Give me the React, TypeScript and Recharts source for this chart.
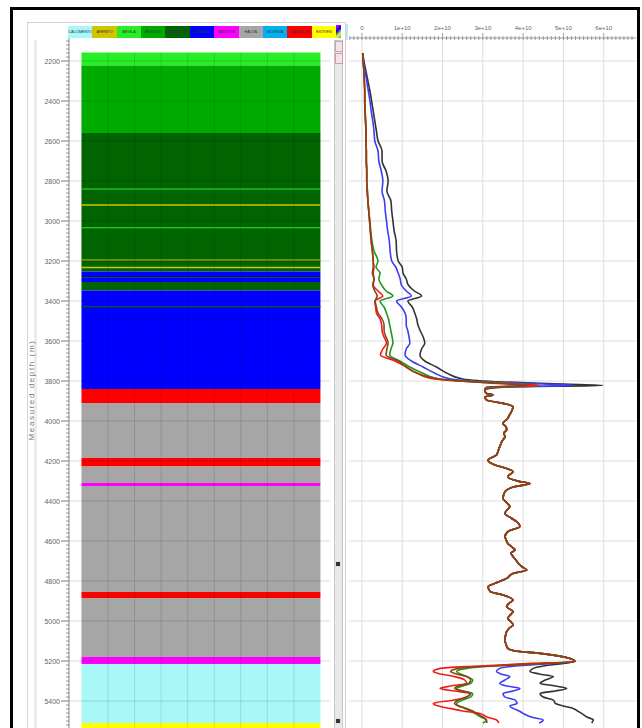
import React from "react";
import {
  ComposedChart,
  LineChart,
  Line,
  XAxis,
  YAxis,
  CartesianGrid,
  ReferenceArea,
  ReferenceLine,
} from "recharts";

// ---- lithology legend ----
const lithoNames = [
  "CALCIMENTO",
  "ARENITO",
  "ARGILA",
  "ARGILITO",
  "BASALTO",
  "DIABASIO",
  "ANIDRITA",
  "HALITA",
  "SILVINITA",
  "CARNALITA",
  "ESTIVEN",
];

const lithoColor: Record<string, string> = {
  CALCIMENTO: "#a9f8f8",
  ARENITO: "#d2c400",
  ARGILA: "#28ee28",
  ARGILITO: "#00ab00",
  BASALTO: "#006400",
  DIABASIO: "#0000ff",
  ANIDRITA: "#ff00ff",
  HALITA: "#a6a6a6",
  SILVINITA: "#00b0f0",
  CARNALITA: "#ff0000",
  ESTIVEN: "#ffff00",
};

// ---- lithology column (top, base in m, lithology) ----
const bandTop = [
  2158, 2222, 2560, 2837, 2916, 3031, 3192, 3229, 3253, 3280,
  3285, 3305, 3348, 3425, 3840, 3910, 4185, 4228, 4310, 4325,
  4855, 4885, 5180, 5215, 5510,
];
const bandBase = [
  2222, 2560, 3253, 2843, 2924, 3036, 3198, 3236, 3280, 3285,
  3305, 3348, 3840, 3431, 3910, 4185, 4228, 4310, 4325, 4855,
  4885, 5180, 5215, 5510, 5540,
];
const bandLitho = [
  "ARGILA", "ARGILITO", "BASALTO", "ARGILA", "ARENITO", "ARGILA", "ARENITO", "ARENITO", "DIABASIO", "BASALTO",
  "DIABASIO", "BASALTO", "DIABASIO", "BASALTO", "CARNALITA", "HALITA", "CARNALITA", "HALITA", "ANIDRITA", "HALITA",
  "CARNALITA", "HALITA", "ANIDRITA", "CALCIMENTO", "ESTIVEN",
];

// ---- depth scale ----
const depthTicks = [2200, 2400, 2600, 2800, 3000, 3200, 3400, 3600, 3800, 4000, 4200, 4400, 4600, 4800, 5000, 5200, 5400];
const depthMinorTicks = Array.from({ length: 176 }, (_, i) => 2100 + i * 20);
const valueMajorTicks = [0, 1, 2, 3, 4, 5, 6];
const valueMinorTicks = Array.from({ length: 71 }, (_, i) => (i - 3) / 10);

// ---- curves (values in 1e10) ----
const upperDepth = [
  2160, 2200, 2250, 2300, 2350, 2400, 2450, 2500, 2550, 2600,
  2650, 2700, 2750, 2800, 2850, 2900, 2950, 3000, 3050, 3100,
  3150, 3200, 3230, 3260, 3290, 3320, 3350, 3375, 3400, 3430,
  3460, 3490, 3520, 3550, 3580, 3610, 3640, 3670, 3700, 3730,
  3760, 3790, 3805, 3815, 3822, 3830, 3840,
];
const upperBlack = [
  0.02, 0.05, 0.1, 0.15, 0.2, 0.24, 0.28, 0.32, 0.36, 0.4,
  0.5, 0.5, 0.6, 0.65, 0.62, 0.72, 0.74, 0.77, 0.8, 0.85,
  0.86, 0.9, 1.0, 1.02, 1.1, 1.15, 1.3, 1.48, 1.14, 1.25,
  1.31, 1.36, 1.39, 1.45, 1.52, 1.56, 1.48, 1.44, 1.56, 1.85,
  2.1, 2.5, 3.5, 5.0, 5.98, 3.6, 3.1,
];
const upperBlue = [
  0.02, 0.04, 0.08, 0.12, 0.16, 0.2, 0.23, 0.27, 0.3, 0.32,
  0.4, 0.42, 0.48, 0.52, 0.5, 0.56, 0.58, 0.61, 0.64, 0.68,
  0.7, 0.74, 0.84, 0.9, 0.95, 0.98, 1.1, 1.23, 0.86, 0.98,
  1.07, 1.1, 1.1, 1.14, 1.17, 1.19, 1.1, 1.07, 1.23, 1.52,
  1.8, 2.2, 3.2, 4.5, 5.24, 3.4, 3.08,
];
const upperGreen = [
  0.02, 0.03, 0.05, 0.06, 0.07, 0.07, 0.08, 0.09, 0.1, 0.1,
  0.11, 0.11, 0.12, 0.12, 0.14, 0.15, 0.17, 0.2, 0.22, 0.25,
  0.3, 0.4, 0.35, 0.45, 0.42, 0.49, 0.6, 0.77, 0.45, 0.55,
  0.61, 0.66, 0.69, 0.72, 0.75, 0.77, 0.72, 0.69, 0.94, 1.19,
  1.5, 1.9, 3.0, 4.0, 4.4, 3.3, 3.06,
];
const upperRed = [
  0.02, 0.03, 0.05, 0.06, 0.07, 0.07, 0.08, 0.09, 0.1, 0.1,
  0.11, 0.11, 0.12, 0.12, 0.13, 0.15, 0.17, 0.19, 0.21, 0.23,
  0.26, 0.28, 0.3, 0.28, 0.3, 0.28, 0.4, 0.52, 0.32, 0.34,
  0.36, 0.45, 0.49, 0.5, 0.55, 0.61, 0.52, 0.46, 0.82, 1.1,
  1.36, 1.8, 2.8, 3.8, 4.4, 3.2, 3.05,
];
const upperBrown = [
  0.02, 0.03, 0.05, 0.06, 0.07, 0.07, 0.08, 0.09, 0.1, 0.1,
  0.11, 0.11, 0.12, 0.12, 0.13, 0.15, 0.17, 0.19, 0.21, 0.23,
  0.26, 0.28, 0.28, 0.26, 0.3, 0.27, 0.32, 0.38, 0.33, 0.36,
  0.4, 0.5, 0.55, 0.55, 0.6, 0.65, 0.62, 0.6, 0.9, 1.1,
  1.36, 1.94, 2.8, 3.6, 4.1, 3.1, 3.05,
];

// salt section: all curves overlap
const midDepth = [
  3848, 3862, 3870, 3880, 3895, 3912, 3928, 3953, 3970, 3987,
  4012, 4030, 4045, 4060, 4078, 4100, 4128, 4150, 4170, 4195,
  4220, 4237, 4253, 4278, 4303, 4312, 4328, 4353, 4387, 4410,
  4428, 4445, 4462, 4485, 4503, 4528, 4553, 4578, 4595, 4612,
  4630, 4645, 4660, 4678, 4695, 4712, 4730, 4745, 4762, 4787,
  4808, 4828, 4853, 4870, 4895, 4910, 4928, 4953, 4970, 4987,
  5005, 5020, 5035, 5053, 5075, 5095, 5120, 5137, 5150, 5162,
  5187, 5203,
];
const midValue = [
  3.05, 3.09, 3.25, 3.05, 3.09, 3.5, 3.75, 3.71, 3.66, 3.62,
  3.5, 3.58, 3.59, 3.52, 3.55, 3.48, 3.42, 3.38, 3.34, 3.13,
  3.3, 3.59, 3.75, 3.62, 3.92, 4.17, 3.8, 3.55, 3.5, 3.6,
  3.67, 3.6, 3.55, 3.7, 3.84, 3.92, 3.62, 3.55, 3.58, 3.62,
  3.72, 3.8, 3.7, 3.75, 3.82, 3.88, 3.98, 4.09, 3.75, 3.59,
  3.35, 3.13, 3.18, 3.5, 3.75, 3.66, 3.59, 3.75, 3.68, 3.62,
  3.7, 3.75, 3.66, 3.59, 3.56, 3.55, 3.58, 3.62, 3.8, 4.42,
  5.16, 5.29,
];

const lowerDepth = [
  5212, 5225, 5237, 5253, 5265, 5278, 5295, 5312, 5325, 5337,
  5350, 5362, 5380, 5395, 5412, 5425, 5437, 5450, 5462, 5480,
  5495, 5510,
];
const lowerRed = [4.2, 2.9, 1.94, 1.77, 1.95, 2.3, 2.55, 2.6, 2.2, 1.94, 2.3, 2.68, 2.6, 2.3, 1.77, 1.9, 2.18, 2.5, 2.93, 3.1, 3.34, 3.4];
const lowerGreen = [4.4, 3.2, 2.6, 2.35, 2.45, 2.6, 2.75, 2.7, 2.5, 2.35, 2.5, 2.75, 2.7, 2.5, 2.35, 2.4, 2.55, 2.7, 2.8, 2.95, 3.09, 3.0];
const lowerBlue = [4.7, 3.8, 3.42, 3.34, 3.45, 3.67, 3.55, 3.42, 3.6, 3.92, 3.75, 3.5, 3.55, 3.8, 3.85, 3.67, 3.75, 3.9, 4.0, 4.2, 4.5, 4.4];
const lowerBlack = [5.0, 4.5, 4.25, 4.17, 4.4, 4.75, 4.55, 4.42, 4.8, 5.08, 4.8, 4.42, 4.5, 4.75, 4.8, 5.0, 5.24, 5.35, 5.45, 5.58, 5.74, 5.7];
const lowerBrown = [4.6, 3.3, 2.4, 2.2, 2.35, 2.6, 2.7, 2.65, 2.4, 2.3, 2.5, 2.7, 2.6, 2.4, 2.3, 2.4, 2.6, 2.75, 2.85, 3.0, 3.09, 3.1];

const rows = [
  ...upperDepth.map((d, i) => ({
    depth: d, black: upperBlack[i], blue: upperBlue[i], green: upperGreen[i], red: upperRed[i], brown: upperBrown[i],
  })),
  ...midDepth.map((d, i) => ({
    depth: d, black: midValue[i], blue: midValue[i], green: midValue[i], red: midValue[i], brown: midValue[i],
  })),
  ...lowerDepth.map((d, i) => ({
    depth: d, black: lowerBlack[i], blue: lowerBlue[i], green: lowerGreen[i], red: lowerRed[i], brown: lowerBrown[i],
  })),
];

const series = [
  { key: "black", color: "#333333" },
  { key: "blue", color: "#3c3cf0" },
  { key: "green", color: "#1f9a1f" },
  { key: "red", color: "#f01c1c" },
  { key: "brown", color: "#8b4513" },
];

const DEPTH_DOMAIN: [number, number] = [2085, 5605];
const FONT = "'Liberation Sans', Arial, sans-serif";
const LEFT_AXIS_X = 69;
const TOP_AXIS_Y = 38;

function DepthTick(props: any) {
  const { y, payload } = props;
  const v = payload.value as number;
  const major = depthTicks.includes(v);
  return (
    <g>
      <line x1={LEFT_AXIS_X - (major ? 8 : 3)} x2={LEFT_AXIS_X} y1={y} y2={y} stroke="#777" strokeWidth={major ? 1 : 0.8} />
      {major && (
        <text x={LEFT_AXIS_X - 9} y={y} dy={2.5} textAnchor="end" fontSize={7} fill="#666" fontFamily={FONT}>
          {v}
        </text>
      )}
    </g>
  );
}

function ValueTick(props: any) {
  const { x, payload } = props;
  const v = Math.round(payload.value * 10) / 10;
  const major = Number.isInteger(v);
  return (
    <g>
      <line x1={x} x2={x} y1={TOP_AXIS_Y - (major ? 5 : 2)} y2={TOP_AXIS_Y + 2} stroke="#888" strokeWidth={0.8} />
      {major && v >= 0 && (
        <text x={x} y={TOP_AXIS_Y - 8} textAnchor="middle" fontSize={6} fill="#666" fontFamily={FONT}>
          {v === 0 ? "0" : `${v}e+10`}
        </text>
      )}
    </g>
  );
}

function LithoColumn() {
  return (
    <ComposedChart
      width={335}
      height={742}
      data={depthTicks.map((d) => ({ depth: d }))}
      margin={{ top: 38, right: 5, bottom: 0, left: 20 }}
    >
      <XAxis type="number" dataKey="x" domain={[-0.47, 9.36]} hide allowDataOverflow />
      <YAxis
        type="number"
        dataKey="depth"
        domain={DEPTH_DOMAIN}
        reversed
        allowDataOverflow
        width={49}
        ticks={depthMinorTicks}
        interval={0}
        tickLine={false}
        tick={<DepthTick />}
        axisLine={{ stroke: "#888" }}
        label={{
          value: "Measured depth (m)",
          angle: -90,
          position: "insideLeft",
          offset: 11,
          style: { textAnchor: "middle", fontSize: 8, fill: "#777", letterSpacing: 1.6, fontFamily: FONT },
        }}
      />
      {bandTop.map((top, i) => (
        <ReferenceArea
          key={`b${i}`}
          x1={0}
          x2={9}
          y1={top}
          y2={bandBase[i]}
          fill={lithoColor[bandLitho[i]]}
          fillOpacity={1}
          stroke="none"
          ifOverflow="hidden"
        />
      ))}
      {depthTicks.map((d) => (
        <ReferenceLine key={`h${d}`} y={d} stroke="rgba(0,0,0,0.14)" strokeWidth={1} />
      ))}
      {[1, 2, 3, 4, 5, 6, 7, 8].map((x) => (
        <ReferenceLine
          key={`v${x}`}
          segment={[
            { x, y: bandTop[0] },
            { x, y: 5540 },
          ]}
          stroke="rgba(0,0,0,0.12)"
          strokeWidth={1}
        />
      ))}
    </ComposedChart>
  );
}

function LogTrack() {
  return (
    <LineChart
      layout="vertical"
      width={296}
      height={742}
      data={rows}
      margin={{ top: 0, right: 4, bottom: 0, left: 5 }}
    >
      <CartesianGrid stroke="#dedede" horizontalValues={depthTicks} verticalValues={valueMajorTicks} />
      <XAxis
        type="number"
        orientation="top"
        domain={[-0.32, 6.8]}
        allowDataOverflow
        ticks={valueMinorTicks}
        interval={0}
        height={TOP_AXIS_Y}
        tickLine={false}
        tick={<ValueTick />}
        axisLine={{ stroke: "#999" }}
      />
      {/* in vertical layout a numeric Y axis already grows downward */}
      <YAxis type="number" dataKey="depth" domain={DEPTH_DOMAIN} allowDataOverflow hide />
      {series.map((s) => (
        <Line
          key={s.key}
          dataKey={s.key}
          type="monotone"
          stroke={s.color}
          strokeWidth={1.6}
          dot={false}
          isAnimationActive={false}
        />
      ))}
    </LineChart>
  );
}

export default function App() {
  return (
    <div
      style={{
        position: "absolute",
        left: 0,
        top: 0,
        width: 642,
        height: 728,
        overflow: "hidden",
        background: "#fff",
        fontFamily: FONT,
      }}
    >
      {/* left panel border + title strip */}
      <div style={{ position: "absolute", left: 27, top: 22, width: 318, height: 720, borderLeft: "1px solid #d4d4d4", borderTop: "1px solid #d4d4d4" }} />
      <div style={{ position: "absolute", left: 34, top: 40, width: 3, height: 700, background: "#ececec" }} />

      <div style={{ position: "absolute", left: 0, top: 0 }}>
        <LithoColumn />
      </div>

      {/* legend */}
      <div style={{ position: "absolute", left: 68, top: 26, width: 268, height: 12, display: "flex" }}>
        {lithoNames.map((n) => (
          <div
            key={n}
            style={{
              flex: 1,
              background: lithoColor[n],
              fontSize: 3.8,
              letterSpacing: -0.1,
              lineHeight: "12px",
              color: "#333",
              overflow: "hidden",
              whiteSpace: "nowrap",
              textAlign: "center",
            }}
          >
            {n}
          </div>
        ))}
      </div>
      <div
        style={{
          position: "absolute",
          left: 336,
          top: 25,
          width: 5,
          height: 13,
          background: "linear-gradient(135deg,#ff00ff,#0000ff 40%,#ffff00 70%,#00aaff)",
        }}
      />

      {/* scrollbar */}
      <div style={{ position: "absolute", left: 334, top: 40, width: 7, height: 700, background: "#e9e9e9", border: "1px solid #c8c8c8" }} />
      <div style={{ position: "absolute", left: 335, top: 41, width: 6, height: 9, background: "#f4e4ea", border: "1px solid #c9a0b0" }} />
      <div style={{ position: "absolute", left: 335, top: 53, width: 6, height: 9, background: "#f4e4ea", border: "1px solid #c9a0b0" }} />
      <div style={{ position: "absolute", left: 335, top: 561, width: 4, height: 4, background: "#333", border: "1px solid #ddd" }} />
      <div style={{ position: "absolute", left: 335, top: 718, width: 4, height: 4, background: "#333", border: "1px solid #ddd" }} />

      {/* right panel edge */}
      <div style={{ position: "absolute", left: 345, top: 22, width: 1, height: 720, background: "#d0d0d0" }} />
      <div style={{ position: "absolute", left: 346, top: 24, width: 2, height: 16, background: "#bfe6f2" }} />

      <div style={{ position: "absolute", left: 344, top: 0 }}>
        <LogTrack />
      </div>

      {/* outer frame */}
      <div
        style={{
          position: "absolute",
          left: 10,
          top: 7,
          width: 624,
          height: 760,
          border: "3px solid #000",
          pointerEvents: "none",
        }}
      />
    </div>
  );
}
